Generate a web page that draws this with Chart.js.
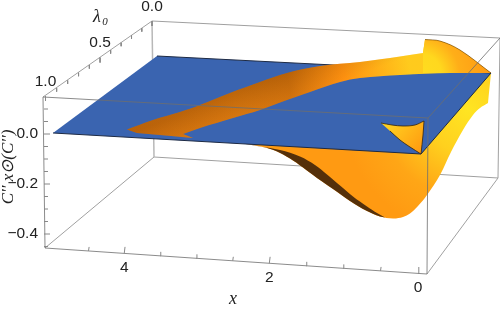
<!DOCTYPE html>
<html>
<head>
<meta charset="utf-8">
<style>
  html, body { margin: 0; padding: 0; background: #fff; }
  canvas { display: block; }
</style>
<script src="https://cdn.jsdelivr.net/npm/chart.js@4"></script>
</head>
<body>
<canvas id="grafico" width="500" height="310"></canvas>
<script>
// ticks of the three box axes
const xTicks = [0, 0.5, 1, 1.5, 2, 2.5, 3, 3.5, 4, 4.5];
const xLabels = [0, 2, 4];
const lambdaTicks = [0, 0.1, 0.2, 0.3, 0.4, 0.5, 0.6, 0.7, 0.8, 0.9, 1];
const lambdaLabels = [0, 0.5, 1];
const zTicks = [-0.45, -0.4, -0.35, -0.3, -0.25, -0.2, -0.15, -0.1, -0.05, 0, 0.05, 0.1];
const zLabels = [-0.4, -0.2, 0];

// outlines, in view plane units (a repeated point keeps a corner sharp)
const planeX = [157, 491, 421, 53];
const planeY = [56, 73, 154, 133];
const bandX = [127, 153, 180, 200, 230, 260, 287, 320, 360, 390, 423, 423, 425, 425, 440, 460, 491, 491, 450, 400, 360, 340, 310, 287, 260, 233, 200, 183, 183, 193, 193, 160, 137];
const bandY = [129.5, 120, 112, 105, 93, 82, 73, 66, 62, 58, 53, 53, 39.5, 39.5, 41, 50, 73, 73, 73, 75, 78, 82, 92, 100, 110, 118, 128, 134, 134, 138, 138, 135, 133];
const flapX = [423, 423, 425, 425, 440, 460, 491, 491, 423, 423];
const flapY = [53, 53, 39.5, 39.5, 41, 50, 73, 73, 73, 73];
const bodyX = [243, 263, 276, 290, 303, 317, 333, 350, 367, 380, 393, 403, 410, 418, 427, 440, 451, 463, 473, 480, 488, 488, 491, 491, 421, 421];
const bodyY = [143.5, 147, 151, 158.5, 167.5, 178, 189, 201, 211, 216.5, 218.5, 217, 213.5, 206, 195, 175, 152, 130, 115, 108, 103, 103, 73, 73, 100, 100];
const rimX = [243, 243, 263, 276, 290, 303, 317, 333, 350, 367, 380, 385, 385, 377, 367, 353, 340, 327, 315, 300, 280, 260];
const rimY = [143.5, 143.5, 147, 151, 158.5, 167.5, 178, 189, 201, 211, 216.5, 217.5, 217.5, 213, 206.5, 196.5, 185.5, 174.5, 165, 156.5, 150, 146.5];
const tipX = [381, 381, 392, 403, 415, 424, 424, 423, 421, 421, 410, 400, 390];
const tipY = [123, 123, 125, 126, 125, 121, 121, 135, 154, 154, 147, 140, 131];

const CAJA = {
  a: [43, 97], b: [152, 21], c: [500, 38], d: [428, 118],
  e: [45, 248], f: [154, 157], g: [498, 178], h: [427, 274]
};

function puntos(xs, ys) {
  return xs.map((v, i) => ({ x: v, y: ys[i] }));
}

// perspective walk along a box edge
function enEje(p0, p1, t, w) {
  const s = t / (t + w * (1 - t));
  return { x: p0[0] + (p1[0] - p0[0]) * s, y: p0[1] + (p1[1] - p0[1]) * s };
}
const posX = v => enEje([418, 273.5], [53, 248.5], v / 5, 0.97);
const posLambda = v => enEje([152, 21], [45.5, 96], v, 1.05);
const posZ = v => ({ x: 44, y: 134 - v * 250 });

function marcas(valores, pos, mayores, dx, dy, dxMayor, dyMayor) {
  const out = [];
  valores.forEach(v => {
    const p = pos(v);
    const grande = mayores.includes(v);
    out.push({ x: p.x, y: p.y });
    out.push({ x: p.x + (grande ? dxMayor : dx), y: p.y + (grande ? dyMayor : dy) });
    out.push({ x: NaN, y: NaN });
  });
  return out;
}

function aristas(lista) {
  const out = [];
  lista.forEach(par => {
    out.push({ x: CAJA[par[0]][0], y: CAJA[par[0]][1] });
    out.push({ x: CAJA[par[1]][0], y: CAJA[par[1]][1] });
    out.push({ x: NaN, y: NaN });
  });
  return out;
}

// gradients go through the scales too
function escalaLista(c) {
  const { x, y } = c.chart.scales;
  return x && y && Number.isFinite(x.getPixelForValue(0)) && Number.isFinite(y.getPixelForValue(0));
}
function lineal(c, x0, y0, x1, y1, stops) {
  if (!escalaLista(c)) return stops[0][1];
  const { x, y } = c.chart.scales;
  const g = c.chart.ctx.createLinearGradient(x.getPixelForValue(x0), y.getPixelForValue(y0), x.getPixelForValue(x1), y.getPixelForValue(y1));
  stops.forEach(s => g.addColorStop(s[0], s[1]));
  return g;
}
function radial(c, cx, cy, r, stops) {
  if (!escalaLista(c)) return stops[0][1];
  const { x, y } = c.chart.scales;
  const px = x.getPixelForValue(cx), py = y.getPixelForValue(cy);
  const g = c.chart.ctx.createRadialGradient(px, py, 0, px, py, r);
  stops.forEach(s => g.addColorStop(s[0], s[1]));
  return g;
}

function forma(data, color, order, extra) {
  return Object.assign({
    data, order, showLine: true, fill: 'shape', backgroundColor: color,
    borderWidth: 0, pointRadius: 0, tension: 0.35
  }, extra || {});
}
function trazo(data, color, width, order, tension) {
  return { data, order, showLine: true, fill: false, borderColor: color, borderWidth: width, pointRadius: 0, tension: tension || 0, spanGaps: false };
}

const textos = {
  id: 'textos',
  afterDatasetsDraw(chart) {
    const ctx = chart.ctx;
    const { x, y } = chart.scales;
    const poner = (t, px, py, font, align) => {
      ctx.font = font;
      ctx.textAlign = align || 'center';
      ctx.fillText(t, x.getPixelForValue(px), y.getPixelForValue(py));
    };
    ctx.save();
    ctx.fillStyle = '#222';
    ctx.textBaseline = 'middle';
    const f = '15.5px "Liberation Sans"';
    xLabels.forEach(v => { const p = posX(v); poner(String(v), p.x, p.y + 14, f); });
    lambdaLabels.forEach(v => { const p = posLambda(v); poner(v.toFixed(1), p.x, p.y - 14.5, f); });
    zLabels.forEach(v => { const p = posZ(v); poner(v.toFixed(1).replace('-', '\u2212'), 38, p.y, f, 'right'); });
    poner('x', 233, 299, 'italic 18px "Liberation Serif"');
    poner('\u03bb', 97, 17, 'italic 18px "Liberation Serif"');
    poner('0', 105, 22, 'italic 11px "Liberation Serif"');
    // rotated z axis title
    ctx.translate(x.getPixelForValue(9), y.getPixelForValue(167));
    ctx.rotate(-Math.PI / 2);
    ctx.font = 'italic 17px "Liberation Serif"';
    ctx.textAlign = 'center';
    ctx.fillText('C\u2032\u2032 x\u2299(C\u2032\u2032)', 0, 0);
    ctx.restore();
  }
};

new Chart(document.getElementById('grafico'), {
  type: 'scatter',
  data: {
    datasets: [
      trazo(aristas([['b', 'c'], ['a', 'b'], ['e', 'f'], ['f', 'g'], ['g', 'h'], ['c', 'g']]), '#a0a0a0', 1, 90),
      trazo(aristas([['b', 'f']]), '#b8b8b8', 1.5, 89),
      forma(puntos(bodyX, bodyY), c => radial(c, 468, 110, 125, [[0, '#ffe522'], [0.35, '#ffd01e'], [0.7, '#ffa616'], [1, '#ff9a12']]), 80),
      forma(puntos(rimX, rimY), '#55300a', 79),
      forma(puntos(planeX, planeY), '#3a64b0', 70, { borderColor: '#1d2a44', borderWidth: 1, tension: 0 }),
      forma(puntos(bandX, bandY), c => lineal(c, 128, 130, 491, 60, [[0, '#c96a0e'], [0.3, '#cf700f'], [0.45, '#c4680c'], [0.6, '#ff900f'], [0.78, '#ffdc20'], [1, '#ffdc20']]), 60),
      forma(puntos(bandX, bandY), c => lineal(c, 290, 72, 300, 98, [[0, 'rgba(150,80,0,0.3)'], [1, 'rgba(255,150,20,0.25)']]), 59),
      forma(puntos(flapX, flapY), c => radial(c, 420, 75, 72, [[0, '#ffdc20'], [0.3, '#ffd81e'], [0.55, '#ffae18'], [1, '#ff9813']]), 58),
      trazo(puntos(flapX.slice(2, 7), flapY.slice(2, 7)), 'rgba(90,50,0,0.7)', 0.8, 57, 0.35),
      forma(puntos(tipX, tipY), c => lineal(c, 392, 120, 424, 148, [[0, '#ffd020'], [1, '#ff9a10']]), 50, { borderColor: '#33240e', borderWidth: 0.8 }),
      trazo(aristas([['a', 'd'], ['d', 'c'], ['d', 'h'], ['a', 'e'], ['e', 'h']]), 'rgba(110,110,110,0.8)', 1, 40),
      trazo(marcas(xTicks, posX, xLabels, 0.6, -4, 0.8, -6.5), '#888', 1, 30),
      trazo(marcas(lambdaTicks, posLambda, lambdaLabels, 0, 3.5, 0, 5), '#888', 1, 30),
      trazo(marcas(zTicks, posZ, zLabels, 4, 0, 6, 0), '#888', 1, 30)
    ]
  },
  options: {
    responsive: false,
    animation: false,
    layout: { padding: 0 },
    plugins: { legend: { display: false }, tooltip: { enabled: false } },
    scales: {
      x: { type: 'linear', display: false, min: 0, max: 500 },
      y: { type: 'linear', display: false, min: 0, max: 310, reverse: true }
    }
  },
  plugins: [textos]
});
</script>
</body>
</html>
